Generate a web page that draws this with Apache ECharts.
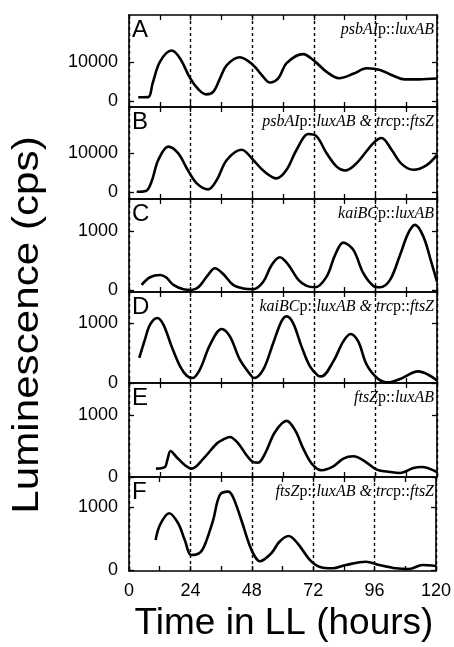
<!DOCTYPE html>
<html><head><meta charset="utf-8">
<script src="https://cdn.jsdelivr.net/npm/echarts@6/dist/echarts.min.js"></script>
<style>html,body{margin:0;padding:0;background:#fff}#c{width:454px;height:647px}</style>
</head><body><div id="c"></div>
<script>
// ---- data (hours in LL, luminescence cps) ----
const tA = [3.6, 7.5, 9.2, 12.1, 16.6, 19.9, 23.8, 27, 30, 32.9, 35.5, 38.1, 43.2, 48.4, 51.7, 54.9, 58.2, 61.4, 67.8, 72.5, 77, 81.8, 87.4, 92.6, 97.8, 103, 107.5, 113, 120];
const vA = [1060, 1100, 4600, 10100, 12900, 10900, 5900, 3100, 1800, 2500, 5900, 9200, 11200, 9200, 6700, 4800, 5900, 9700, 12000, 10100, 7500, 5900, 7000, 8400, 8000, 6500, 5600, 5600, 5800];

const tB = [3.0, 6.6, 8.8, 11.4, 15.3, 19.2, 22.5, 26.3, 30.9, 34.2, 38.1, 43.9, 48.4, 52.3, 57.5, 61.4, 65.3, 69.9, 73.1, 77, 80.9, 84.2, 88.7, 95.2, 98.4, 102.3, 106.2, 110.8, 116, 120];
const vB = [200, 400, 2800, 8300, 11700, 10000, 6200, 2400, 800, 3200, 8300, 10900, 8300, 5600, 3600, 5800, 10900, 14900, 14300, 10000, 6600, 5600, 7500, 12600, 13900, 10900, 7300, 5800, 7000, 9600];

const tC = [4.9, 8.2, 12.1, 14.4, 17.3, 21.2, 24.4, 27, 30.3, 33.5, 36.7, 40.6, 44.5, 48.4, 52.3, 55.6, 58.8, 62.1, 66, 69.2, 72.5, 77, 80.3, 83.5, 87.4, 91.3, 95.2, 97.8, 101.7, 105.6, 108.8, 111.4, 114.7, 117.9, 120];
const vC = [85, 215, 254, 215, 85, 12, 0, 45, 225, 367, 270, 85, 25, 12, 140, 424, 554, 424, 170, 68, 45, 225, 593, 802, 678, 283, 68, 45, 170, 593, 961, 1102, 903, 452, 140];

const tD = [4, 6.2, 8.2, 11, 13.4, 16.6, 19.9, 22.5, 24.8, 27.6, 31.6, 36.1, 39.3, 43.2, 47.3, 48.7, 52.3, 56.2, 59.4, 61.4, 63.9, 67.2, 70.5, 73.7, 75, 79.6, 83.5, 86.3, 89.3, 92.6, 97.1, 101, 105.6, 112.7, 116.6, 120];
const vD = [417, 722, 972, 1083, 972, 610, 277, 122, 83, 222, 638, 900, 777, 388, 138, 83, 222, 667, 1027, 1110, 1000, 610, 277, 122, 110, 360, 693, 817, 693, 305, 67, 10, 67, 193, 138, 43];

const tE = [10.5, 14, 14.9, 16.2, 18.5, 21.8, 24.4, 29, 34.2, 36.7, 39.3, 42.6, 45.8, 48.4, 50.4, 53, 56.9, 61.4, 64.7, 67.9, 71.2, 75, 79.6, 83.5, 87.4, 91.3, 96.5, 101.7, 105.6, 110.8, 114.1, 120];
const vE = [136, 162, 270, 421, 324, 190, 136, 298, 541, 606, 648, 541, 352, 243, 233, 379, 729, 908, 757, 460, 217, 109, 173, 298, 335, 270, 120, 81, 65, 146, 162, 81];

const tF = [10.4, 12.1, 15.7, 19.2, 21.8, 24.4, 27.7, 29.6, 32.9, 35.5, 38.7, 40.6, 43.9, 47.1, 49.1, 51.1, 55.6, 58.8, 62.4, 65.9, 70.5, 74.4, 79.6, 84.8, 92.6, 97.8, 104.3, 109.5, 114.7, 120];
const vF = [478, 718, 904, 745, 478, 239, 276, 399, 797, 1196, 1249, 1169, 797, 399, 223, 140, 266, 451, 542, 425, 171, 53, 27, 80, 132, 80, 27, 16, 80, 64];

const yTicksBig = [0, 10000];
const yTicksSmall = [0, 1000];
const panelLetters = ['A', 'B', 'C', 'D', 'E', 'F'];
const panelTags = [
  '{i|psbAI}{r|p::}{i|luxAB}',
  '{i|psbAI}{r|p::}{i|luxAB & trc}{r|p::}{i|ftsZ}',
  '{i|kaiBC}{r|p::}{i|luxAB}',
  '{i|kaiBC}{r|p::}{i|luxAB & trc}{r|p::}{i|ftsZ}',
  '{i|ftsZ}{r|p::}{i|luxAB}',
  '{i|ftsZ}{r|p::}{i|luxAB & trc}{r|p::}{i|ftsZ}'
];
const xTitle = 'Time in LL (hours)';
const yTitle = 'Luminescence (cps)';

// ---- layout ----
const series_t = [tA, tB, tC, tD, tE, tF];
const series_v = [vA, vB, vC, vD, vE, vF];
const yRanges = [[-1400, 21900], [-1650, 21800], [-35, 1540], [0, 1515], [0, 1520], [-16, 1483]];
const yTicks = [yTicksBig, yTicksBig, yTicksSmall, yTicksSmall, yTicksSmall, yTicksSmall];
const tops = [15, 107, 199, 292, 383, 477];
const heights = [92, 92, 93, 91, 94, 94];

const FONT = '"Liberation Sans", Arial, Helvetica, sans-serif';
const SERIF = '"Liberation Serif", "Times New Roman", serif';
const lineS = {color: '#000', width: 1.6};
const tickS = {color: '#000', width: 1.3};

const grid = [], xAxis = [], yAxis = [], series = [], graphic = [];
for (let i = 0; i < 6; i++) {
  grid.push({left: 129, right: 17, top: tops[i], height: heights[i]});
  const baseX = {
    gridIndex: i, type: 'value', min: 0, max: 120, interval: 24,
    axisLine: {show: true, onZero: false, lineStyle: lineS},
    axisTick: {show: true, inside: true, length: 5, lineStyle: tickS},
    minorTick: {show: true, splitNumber: 2, length: 5, lineStyle: tickS},
    minorSplitLine: {show: false}
  };
  xAxis.push(Object.assign({}, baseX, {
    position: 'bottom',
    splitLine: {show: false},
    axisLabel: {show: i === 5, color: '#000', fontSize: 18, fontFamily: FONT, margin: 11,
      formatter: v => String(v)}
  }));
  xAxis.push(Object.assign({}, baseX, {
    position: 'top',
    splitLine: {show: true, lineStyle: {color: '#000', width: 1.4, type: [3, 3]}},
    axisLabel: {show: false}
  }));
  const baseY = {
    gridIndex: i, type: 'value', min: yRanges[i][0], max: yRanges[i][1],
    axisLine: {show: true, onZero: false, lineStyle: lineS},
    splitLine: {show: false}
  };
  yAxis.push(Object.assign({}, baseY, {
    position: 'left',
    axisTick: {show: true, inside: true, length: 5, lineStyle: tickS, customValues: yTicks[i]},
    axisLabel: {show: true, customValues: yTicks[i], color: '#000', fontSize: 18, fontFamily: FONT, margin: 11,
      formatter: v => String(v)}
  }));
  yAxis.push(Object.assign({}, baseY, {
    position: 'right',
    axisTick: {show: true, inside: true, length: 5, lineStyle: tickS, customValues: yTicks[i]},
    axisLabel: {show: false}
  }));
  series.push({
    type: 'line', xAxisIndex: 2 * i, yAxisIndex: 2 * i,
    data: series_t[i].map((t, k) => [t, series_v[i][k]]),
    showSymbol: false, smooth: 0.35, silent: true,
    lineStyle: {color: '#000', width: 2.6}
  });
  graphic.push({
    type: 'text', left: 132, top: tops[i] + 3,
    style: {text: panelLetters[i], font: '24px ' + FONT, fill: '#000'}
  });
  graphic.push({
    type: 'text', x: 434, y: tops[i] + 15,
    style: {
      text: panelTags[i], align: 'right', verticalAlign: 'middle', fill: '#000',
      rich: {
        i: {fontFamily: SERIF, fontStyle: 'italic', fontSize: 16, fill: '#000'},
        r: {fontFamily: SERIF, fontSize: 16, fill: '#000'}
      }
    }
  });
}
graphic.push({
  type: 'text', x: 284, y: 624,
  style: {text: xTitle, font: '37px ' + FONT, align: 'center', verticalAlign: 'middle', fill: '#000'}
});
graphic.push({
  type: 'text', x: 28, y: 325, rotation: Math.PI / 2, scaleX: 1.14,
  style: {text: yTitle, font: '37px ' + FONT, align: 'center', verticalAlign: 'middle', fill: '#000'}
});

const chart = echarts.init(document.getElementById('c'), null, {renderer: 'canvas'});
chart.setOption({animation: false, backgroundColor: '#fff', grid, xAxis, yAxis, series, graphic});
</script></body></html>
